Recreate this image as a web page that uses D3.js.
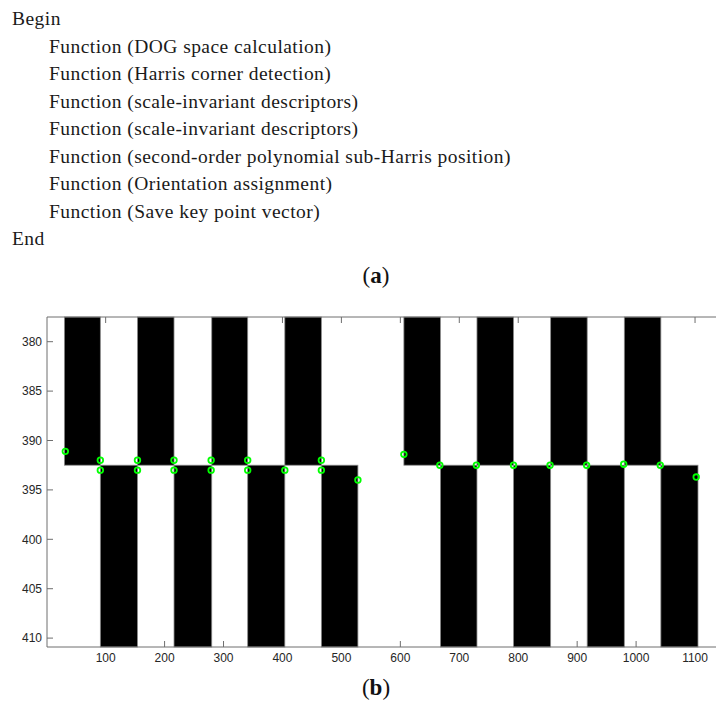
<!DOCTYPE html>
<html>
<head>
<meta charset="utf-8">
<script src="https://cdn.jsdelivr.net/npm/d3@7"></script>
<style>
  body { margin: 0; background: #fff; }
  svg { display: block; }
</style>
</head>
<body>
<div id="chart"></div>
<script>
// pseudo code lines above the plot
var codeLines = [
    { text: "Begin", indent: 0 },
    { text: "Function (DOG space calculation)", indent: 1 },
    { text: "Function (Harris corner detection)", indent: 1 },
    { text: "Function (scale-invariant descriptors)", indent: 1 },
    { text: "Function (scale-invariant descriptors)", indent: 1 },
    { text: "Function (second-order polynomial sub-Harris position)", indent: 1 },
    { text: "Function (Orientation assignment)", indent: 1 },
    { text: "Function (Save key point vector)", indent: 1 },
    { text: "End", indent: 0 }
];

// black stripes of the image, [x start, x end] in pixels
var topStripes = [[30, 91], [154, 216], [280, 341], [404, 466],
                  [606, 668], [730, 792], [855, 917], [980, 1042]];
var bottomStripes = [[91, 154], [216, 280], [341, 404], [466, 528],
                     [668, 730], [792, 855], [917, 980], [1042, 1105]];
var splitRow = 392.5;

// detected corner points (green circles)
var cornerX = [31.6, 91, 91, 154, 154, 216, 216, 279, 279, 341, 341, 404, 466, 466, 528,
               606, 667, 729, 792, 854, 916, 979, 1041, 1102];
var cornerY = [391.1, 392, 393, 392, 393, 392, 393, 392, 393, 392, 393, 393, 392, 393, 394,
               391.4, 392.5, 392.5, 392.5, 392.5, 392.5, 392.4, 392.5, 393.7];

var xTicks = [100, 200, 300, 400, 500, 600, 700, 800, 900, 1000, 1100];
var yTicks = [380, 385, 390, 395, 400, 405, 410];

var width = 716, height = 707;

var svg = d3.select("#chart").append("svg")
    .attr("width", width)
    .attr("height", height);

// (a) text block
svg.append("g").selectAll("text")
    .data(codeLines)
    .enter()
    .append("text")
    .attr("x", function (d) { return d.indent ? 49 : 12; })
    .attr("y", function (d, i) { return 25 + i * 27.5; })
    .style("font-family", "'Liberation Serif', 'Times New Roman', serif")
    .style("font-size", "19.5px")
    .style("letter-spacing", "0.45px")
    .style("fill", "#1a1a1a")
    .text(function (d) { return d.text; });

function caption(letter, cx, cy) {
    var t = svg.append("text")
        .attr("x", cx)
        .attr("y", cy)
        .attr("text-anchor", "middle")
        .style("font-family", "'Liberation Serif', 'DejaVu Serif', serif")
        .style("font-size", "23px")
        .style("fill", "#111");
    t.append("tspan").text("(");
    t.append("tspan").style("font-weight", "bold").text(letter);
    t.append("tspan").text(")");
}
caption("a", 376, 283);
caption("b", 376, 695);

// (b) plot
var plotLeft = 47, plotTop = 317, plotBottom = 647;

var x = d3.scaleLinear()
    .domain([0.5, 1140.5])
    .range([plotLeft, plotLeft + 1140 * 0.5894]);

var y = d3.scaleLinear()
    .domain([377.5, 410.9])
    .range([plotTop, plotBottom]);

var axisColor = "#6e6e6e";
var plot = svg.append("g");

// ticks first, so the black stripes cover them like in the image
var tickLen = 6;
plot.append("g").selectAll("line")
    .data(xTicks)
    .enter()
    .append("line")
    .attr("x1", function (d) { return x(d); })
    .attr("x2", function (d) { return x(d); })
    .attr("y1", plotBottom)
    .attr("y2", plotBottom - tickLen)
    .style("stroke", axisColor);

plot.append("g").selectAll("line")
    .data(xTicks)
    .enter()
    .append("line")
    .attr("x1", function (d) { return x(d); })
    .attr("x2", function (d) { return x(d); })
    .attr("y1", plotTop)
    .attr("y2", plotTop + tickLen)
    .style("stroke", axisColor);

plot.append("g").selectAll("line")
    .data(yTicks)
    .enter()
    .append("line")
    .attr("x1", plotLeft)
    .attr("x2", plotLeft + tickLen)
    .attr("y1", function (d) { return y(d); })
    .attr("y2", function (d) { return y(d); })
    .style("stroke", axisColor);

// stripes
plot.append("g").selectAll("rect")
    .data(topStripes)
    .enter()
    .append("rect")
    .attr("x", function (d) { return x(d[0]); })
    .attr("y", y(377.5))
    .attr("width", function (d) { return x(d[1]) - x(d[0]); })
    .attr("height", y(splitRow) - y(377.5))
    .style("fill", "#000")
    .style("stroke", "#8a8a8a")
    .style("stroke-width", 0.8);

plot.append("g").selectAll("rect")
    .data(bottomStripes)
    .enter()
    .append("rect")
    .attr("x", function (d) { return x(d[0]); })
    .attr("y", y(splitRow))
    .attr("width", function (d) { return x(d[1]) - x(d[0]); })
    .attr("height", y(410.9) - y(splitRow))
    .style("fill", "#000")
    .style("stroke", "#8a8a8a")
    .style("stroke-width", 0.8);

// box lines
plot.append("line")
    .attr("x1", plotLeft).attr("x2", width)
    .attr("y1", plotTop).attr("y2", plotTop)
    .style("stroke", axisColor);
plot.append("line")
    .attr("x1", plotLeft).attr("x2", width)
    .attr("y1", plotBottom).attr("y2", plotBottom)
    .style("stroke", axisColor);
plot.append("line")
    .attr("x1", plotLeft).attr("x2", plotLeft)
    .attr("y1", plotTop).attr("y2", plotBottom)
    .style("stroke", axisColor);

// tick labels
plot.append("g").selectAll("text")
    .data(xTicks)
    .enter()
    .append("text")
    .attr("x", function (d) { return x(d); })
    .attr("y", plotBottom + 15)
    .attr("text-anchor", "middle")
    .style("font-family", "'Liberation Sans', Arial, sans-serif")
    .style("font-size", "12px")
    .style("fill", "#262626")
    .text(function (d) { return d; });

plot.append("g").selectAll("text")
    .data(yTicks)
    .enter()
    .append("text")
    .attr("x", plotLeft - 5)
    .attr("y", function (d) { return y(d); })
    .attr("dy", "0.35em")
    .attr("text-anchor", "end")
    .style("font-family", "'Liberation Sans', Arial, sans-serif")
    .style("font-size", "12px")
    .style("fill", "#262626")
    .text(function (d) { return d; });

// corner markers
plot.append("g").selectAll("circle")
    .data(cornerX)
    .enter()
    .append("circle")
    .attr("cx", function (d) { return x(d); })
    .attr("cy", function (d, i) { return y(cornerY[i]); })
    .attr("r", 2.8)
    .style("fill", "none")
    .style("stroke", "#00ff00")
    .style("stroke-width", 1.8);
</script>
</body>
</html>
